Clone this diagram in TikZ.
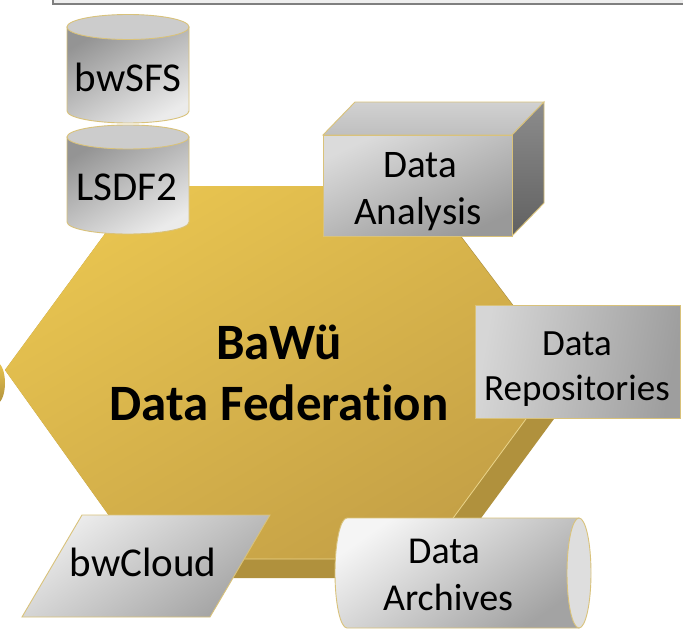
\documentclass[tikz,border=0pt]{standalone}
\usepackage{fontspec}
\setmainfont{Carlito}[Ligatures=NoCommon]
\definecolor{goldA}{HTML}{E8C450}
\definecolor{goldB}{HTML}{C4A046}
\definecolor{golddark}{HTML}{B0913D}
\definecolor{goldlight}{HTML}{EAD48A}
\definecolor{edgegold}{HTML}{D9C27A}
\definecolor{framegray}{HTML}{7F7F7F}
\definecolor{framefill}{HTML}{EEEEEE}
\begin{document}
\begin{tikzpicture}[x=1pt,y=-1pt,
  lbl/.style={inner sep=0pt, anchor=base, font=\fontsize{39}{47}\selectfont},
  biglbl/.style={inner sep=0pt, anchor=base, font=\fontsize{51}{61}\selectfont\bfseries},
  grayedge/.style={draw=edgegold, line width=0.9pt},
]
\useasboundingbox (0,0) rectangle (683,634);
\fill[white] (0,0) rectangle (683,634);

% top frame
\draw[fill=framefill, draw=framegray, line width=2pt] (53,-10) rectangle (700,4);

% left cut-off stub
\shade[top color=goldA, bottom color=golddark] (-4,383) ellipse[x radius=9, y radius=21];

% hexagon extrusion
\fill[golddark] (5,370) -- (140,186) -- (423,186) -- (576,389) -- (437,578) -- (154,578) -- (140,559) -- cycle;
% hexagon front
\shade[top color=goldA, bottom color=goldB, shading angle=30]
  (5,370) -- (140,186) -- (423,186) -- (562,370) -- (423,559) -- (140,559) -- cycle;
\draw[goldlight, line width=0.8pt] (140,559) -- (423,559) -- (562,370);
\draw[golddark!80!black, line width=0.5pt, opacity=0.5] (423,186) -- (562,370);

% LSDF2 cylinder
\shade[top color=black!42, bottom color=black!8, shading angle=30, grayedge]
  (67,137) -- (67,222) arc[start angle=180, end angle=0, x radius=61, y radius=12] -- (189,137) -- cycle;
\filldraw[fill=black!20, grayedge] (128,137) ellipse[x radius=61, y radius=12];
% bwSFS cylinder
\shade[top color=black!42, bottom color=black!8, shading angle=30, grayedge]
  (67,27) -- (67,111) arc[start angle=180, end angle=0, x radius=61, y radius=12] -- (189,27) -- cycle;
\filldraw[fill=black!20, grayedge] (128,27) ellipse[x radius=61, y radius=12.5];

% Data Analysis cuboid
\shade[top color=black!18, bottom color=black!25, grayedge]
  (323,135) -- (355,102) -- (544,102) -- (512,135) -- cycle;
\shade[top color=black!45, bottom color=black!62, grayedge]
  (512,135) -- (544,102) -- (544,203) -- (512,236) -- cycle;
\shade[top color=black!14, bottom color=black!40, shading angle=25, grayedge]
  (323,135) rectangle (512,236);

% Data Repositories box
\shade[left color=black!16, right color=black!38, shading angle=80, grayedge]
  (475,305) rectangle (680,418);

% bwCloud parallelogram
\shade[top color=black!7, bottom color=black!36, shading angle=35, grayedge]
  (82,515) -- (270,515) -- (210,617) -- (22,617) -- cycle;

% Data Archives horizontal cylinder
\shade[top color=black!4, bottom color=black!36, shading angle=35, grayedge]
  (579,518) -- (347,518) arc[start angle=270, end angle=90, x radius=12, y radius=55] -- (579,628) -- cycle;
\filldraw[fill=black!13, grayedge] (579,573) ellipse[x radius=12, y radius=55];

% labels
\node[lbl, font=\fontsize{41}{49}\selectfont] (sfs) at (128,92) {bwSFS};
\node[lbl, font=\fontsize{41}{49}\selectfont] (lsdf) at (127,200) {LSDF2};
\node[lbl] (da1) at (420,177) {Data};
\node[lbl] (da2) at (418,224) {Analysis};
\node[lbl, font=\fontsize{37}{44}\selectfont] (dr1) at (577,355) {Data};
\node[lbl, font=\fontsize{37}{44}\selectfont] (dr2) at (577,400) {Repositories};
\node[lbl, font=\fontsize{41}{49}\selectfont] (cloud) at (143,576) {bwCloud};
\node[lbl, font=\fontsize{38}{46}\selectfont] (ar1) at (444,563) {Data};
\node[lbl, font=\fontsize{38}{46}\selectfont] (ar2) at (448,610) {Archives};
\node[biglbl] (fed1) at (279,359) {BaWü};
\node[biglbl] (fed2) at (279,420) {Data Federation};
\end{tikzpicture}
\end{document}
